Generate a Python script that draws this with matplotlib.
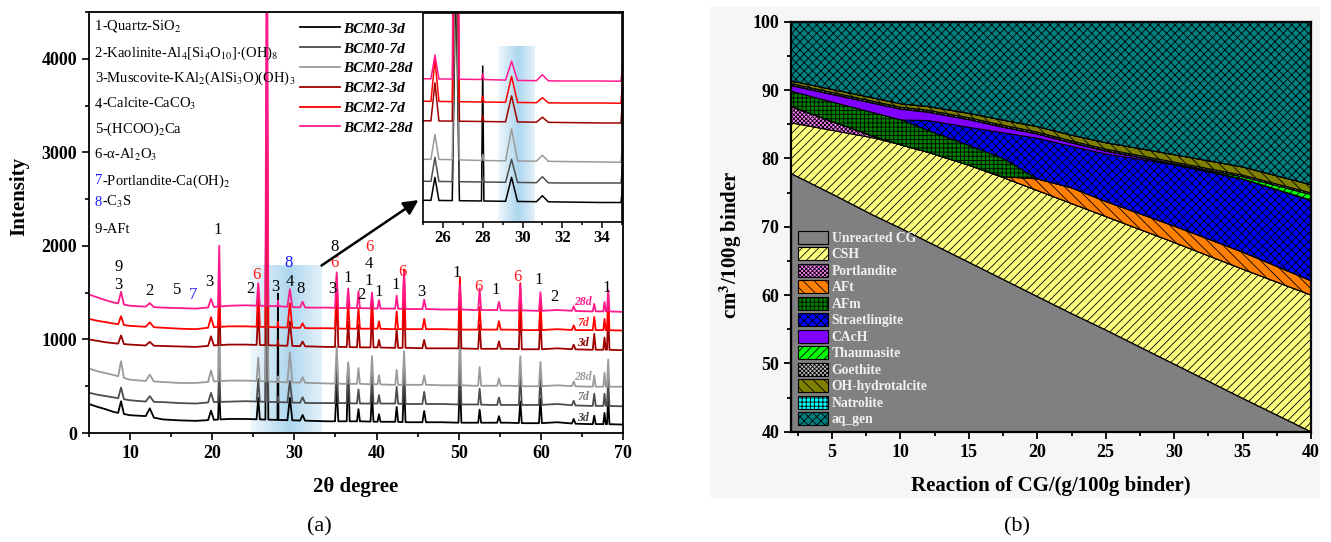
import numpy as np
import matplotlib
matplotlib.use('Agg')
import matplotlib.pyplot as plt
from matplotlib.patches import Rectangle
from matplotlib.ticker import MultipleLocator

plt.rcParams['font.family'] = ['Liberation Serif', 'DejaVu Serif']
plt.rcParams['mathtext.fontset'] = 'stix'
plt.rcParams['hatch.linewidth'] = 0.6
plt.rcParams['hatch.color'] = 'black'

# ---------------- (a) XRD patterns ----------------
base_x = [5, 6, 7, 8, 10, 12, 14, 16, 18, 20, 22, 24, 26, 28, 30, 32, 34, 36, 38, 40,
          42, 44, 46, 48, 50, 52, 54, 56, 58, 60, 62, 64, 66, 68, 70]
base_bcm0_3d = [310, 280, 255, 225, 190, 180, 145, 135, 130, 140, 150, 150, 145, 140, 135, 130, 125, 125,
                125, 120, 120, 115, 115, 115, 110, 110, 110, 110, 105, 105, 115, 100, 95, 95, 90]
base_bcm0_7d = [430, 410, 395, 380, 350, 335, 330, 320, 315, 330, 335, 340, 335, 330, 325, 320, 320, 320,
                315, 315, 315, 310, 310, 310, 305, 305, 300, 300, 300, 300, 310, 295, 290, 290, 285]
base_bcm0_28d = [690, 660, 640, 620, 570, 555, 545, 535, 535, 550, 560, 560, 555, 545, 540, 535, 530, 525,
                 525, 520, 515, 515, 515, 510, 510, 505, 505, 505, 500, 500, 510, 500, 495, 495, 495]
base_bcm2_3d = [1000, 985, 970, 960, 945, 935, 930, 925, 920, 935, 945, 945, 940, 935, 930, 925, 920, 920,
                915, 915, 910, 910, 905, 905, 905, 900, 900, 900, 895, 895, 905, 895, 890, 890, 885]
base_bcm2_7d = [1220, 1200, 1185, 1170, 1145, 1135, 1125, 1115, 1110, 1130, 1140, 1140, 1135, 1130, 1125,
                1120, 1120, 1115, 1115, 1115, 1110, 1110, 1110, 1110, 1105, 1105, 1105, 1105, 1100, 1100,
                1110, 1100, 1100, 1100, 1095]
base_bcm2_28d = [1480, 1450, 1420, 1395, 1360, 1350, 1340, 1335, 1330, 1345, 1360, 1365, 1360, 1355, 1345,
                 1340, 1340, 1335, 1335, 1330, 1330, 1325, 1325, 1320, 1320, 1315, 1315, 1310, 1310, 1305,
                 1315, 1305, 1300, 1300, 1295]

peak_pos = [8.9, 12.4, 19.85, 20.85, 25.6, 26.65, 28.0, 29.45, 31.0, 35.15, 36.55, 37.8, 39.45, 40.3,
            42.45, 43.35, 45.8, 50.15, 52.55, 54.9, 57.5, 59.95, 64.0, 66.5, 67.75, 68.2]
peak_hw = [0.35, 0.5, 0.35, 0.15, 0.2, 0.18, 0.06, 0.3, 0.3, 0.2, 0.18, 0.18, 0.18, 0.18,
           0.18, 0.18, 0.22, 0.18, 0.18, 0.22, 0.18, 0.18, 0.22, 0.18, 0.15, 0.15]
peaks_bcm0_3d = [130, 90, 100, 330, 230, 2300, 1350, 240, 60, 380, 560, 130, 300, 80,
                 160, 450, 120, 470, 140, 70, 230, 260, 50, 90, 120, 280]
peaks_bcm0_7d = [120, 60, 100, 350, 240, 2400, 60, 230, 60, 420, 420, 150, 320, 90,
                 180, 420, 130, 460, 170, 80, 320, 300, 50, 130, 130, 300]
peaks_bcm0_28d = [170, 70, 120, 720, 250, 2600, 60, 320, 60, 390, 230, 170, 300, 100,
                  160, 360, 100, 560, 200, 80, 320, 260, 50, 120, 150, 290]
peaks_bcm2_3d = [90, 40, 100, 560, 380, 3000, 60, 260, 50, 650, 270, 240, 400, 80,
                 200, 700, 90, 600, 260, 80, 480, 330, 50, 170, 130, 420]
peaks_bcm2_7d = [90, 50, 110, 400, 420, 2900, 60, 260, 50, 560, 290, 220, 350, 80,
                 190, 640, 110, 560, 240, 90, 500, 290, 50, 140, 120, 390]
peaks_bcm2_28d = [130, 40, 90, 650, 240, 5000, 60, 190, 60, 380, 210, 180, 170, 90,
                  140, 390, 100, 260, 230, 90, 270, 200, 50, 80, 100, 230]

sample_names = ['BCM0-3d', 'BCM0-7d', 'BCM0-28d', 'BCM2-3d', 'BCM2-7d', 'BCM2-28d']
sample_colors = ['#000000', '#4d4d4d', '#9a9a9a', '#9e0000', '#ff0000', '#ff1a8c']
bases = [base_bcm0_3d, base_bcm0_7d, base_bcm0_28d, base_bcm2_3d, base_bcm2_7d, base_bcm2_28d]
peaks = [peaks_bcm0_3d, peaks_bcm0_7d, peaks_bcm0_28d, peaks_bcm2_3d, peaks_bcm2_7d, peaks_bcm2_28d]

age_text = ['3d', '7d', '28d', '3d', '7d', '28d']
age_x = [65.1, 65.2, 65.1, 65.1, 65.2, 65.1]
age_y = [160, 385, 600, 963, 1175, 1400]
age_colors = ['#444444', '#777777', '#9a9a9a', '#8b0000', '#ff2020', '#ff1a8c']

phase_list = ['1-Quartz-SiO$_2$',
              '2-Kaolinite-Al$_4$[Si$_4$O$_{10}$]$\\cdot$(OH)$_8$',
              '3-Muscovite-KAl$_2$(AlSi$_3$O)(OH)$_3$',
              '4-Calcite-CaCO$_3$',
              '5-(HCOO)$_2$Ca',
              '6-\u03b1-Al$_2$O$_3$',
              '7-Portlandite-Ca(OH)$_2$',
              '8-C$_3$S',
              '9-AFt']
phase_num_colors = ['k', 'k', 'k', 'k', 'k', 'k', '#1a1aff', '#1a1aff', 'k']

peak_label_text = ['9', '3', '2', '5', '7', '3', '1', '2', '6', '3', '8', '4', '8', '8', '6', '3', '1', '2',
                   '6', '4', '1', '1', '1', '6', '3', '1', '6', '1', '6', '1', '2', '1']
peak_label_x = [8.6, 8.6, 12.3, 15.7, 17.7, 19.6, 20.7, 24.7, 25.4, 27.7, 29.3, 29.4, 30.7, 34.9, 34.9,
                34.6, 36.5, 38.2, 39.1, 39.1, 39.1, 40.2, 42.3, 43.2, 45.5, 49.8, 52.4, 54.5, 57.2,
                59.7, 61.6, 68.0]
peak_label_y = [1775, 1583, 1519, 1530, 1476, 1615, 2170, 1540, 1690, 1560, 1815, 1615, 1540, 1990, 1815,
                1540, 1660, 1476, 1985, 1805, 1625, 1508, 1583, 1722, 1508, 1711, 1561, 1530, 1668,
                1636, 1455, 1550]
peak_label_color = ['k', 'k', 'k', 'k', 'b', 'k', 'k', 'k', 'r', 'k', 'b', 'k', 'k', 'k', 'r', 'k', 'k',
                    'k', 'r', 'k', 'k', 'k', 'k', 'r', 'k', 'k', 'r', 'k', 'r', 'k', 'k', 'k']
label_colors = {'k': 'black', 'r': '#ff1a1a', 'b': '#1a1aff'}

# ---------------- (b) phase assemblage ----------------
reaction = [2, 5, 8, 10, 12, 15, 17.5, 20, 22.5, 25, 30, 35, 40]
unreacted_cg = [77.8, 74.8, 71.7, 69.8, 67.8, 64.8, 62.3, 59.8, 57.3, 54.9, 49.9, 44.9, 40.0]
csh = [7.4, 9.3, 11.3, 12.2, 13.1, 14.2, 14.9, 15.5, 16.1, 16.6, 17.8, 18.9, 20.0]
portlandite = [2.4, 1.3, 0.25, 0, 0, 0, 0, 0, 0, 0, 0, 0, 0]
aft = [0, 0, 0, 0, 0, 0, 0.1, 1.7, 2.3, 2.2, 2.4, 2.5, 2.1]
afm = [2.3, 2.9, 3.5, 3.7, 3.2, 2.9, 2.7, 0, 0, 0, 0, 0, 0]
straetlingite = [0, 0, 0, 0, 1.5, 2.7, 3.8, 6.0, 6.1, 7.0, 9.0, 10.7, 11.8]
cach = [0.8, 1.1, 1.35, 1.55, 1.2, 1.1, 0.8, 0.6, 0.5, 0.4, 0.1, 0, 0]
thaumasite = [0, 0, 0, 0, 0, 0, 0, 0, 0, 0, 0, 0.3, 0.8]
goethite = [0.25, 0.25, 0.25, 0.25, 0.25, 0.25, 0.25, 0.25, 0.25, 0.25, 0.25, 0.25, 0.25]
oh_hydrotalcite = [0.4, 0.45, 0.5, 0.5, 0.55, 0.65, 0.75, 0.8, 0.85, 0.95, 1.1, 1.2, 1.2]
natrolite = [0, 0, 0, 0, 0, 0, 0, 0, 0, 0, 0, 0, 0]
aq_gen = [8.65, 9.9, 11.15, 12.0, 12.4, 13.4, 14.4, 15.35, 16.6, 17.7, 19.45, 21.25, 23.85]

phase_names = ['Unreacted CG', 'CSH', 'Portlandite', 'AFt', 'AFm', 'Straetlingite', 'CAcH',
               'Thaumasite', 'Goethite', 'OH-hydrotalcite', 'Natrolite', 'aq_gen']
phase_colors = ['#808080', '#ffff80', '#ff80ff', '#ff8000', '#008000', '#0000ff', '#8000ff',
                '#00ff00', '#c0c0c0', '#808000', '#00ffff', '#008080']
phase_hatches = [None, '////', 'xxxxxxxx', '\\\\\\', '++++', 'xxxx', None, '////', 'xxxxxxxx',
                 '\\\\\\', '++++', 'xxxx']


def build_pattern(base, heights):
    xs, ys = [], []
    for x0, y0 in zip(base_x, base):
        if any(abs(x0 - p) <= w for p, w in zip(peak_pos, peak_hw)):
            continue
        xs.append(x0)
        ys.append(y0)
    for p, w, h in zip(peak_pos, peak_hw, heights):
        for xx, extra in ((p - w, 0), (p, h), (p + w, 0)):
            xs.append(xx)
            ys.append(np.interp(xx, base_x, base) + extra)
    order = np.argsort(xs)
    return np.array(xs)[order], np.array(ys)[order]


W, H = 1331, 542
fig = plt.figure(figsize=(W / 100, H / 100), dpi=100)


def fx(px):
    return px / W


def fy(py):
    return 1 - py / H


def bold_ticks(ax, size):
    ax.tick_params(labelsize=size)
    for lbl in ax.get_xticklabels() + ax.get_yticklabels():
        lbl.set_fontweight('bold')


def gradient(alpha_peak):
    t = np.linspace(0, 1, 200)
    img = np.zeros((1, 200, 4))
    img[..., 0] = 0.60
    img[..., 1] = 0.80
    img[..., 2] = 0.92
    img[0, :, 3] = 0.15 + alpha_peak * np.clip(1 - np.abs(t - 0.55) / 0.55, 0, 1)
    return img


# ---- panel (a)
axa = fig.add_axes([fx(89), fy(433), fx(623 - 89), (433 - 12) / H])
axa.imshow(gradient(0.65), extent=(24.6, 33.3, 0, 1790), aspect='auto', zorder=0.5)
lines = []
for name, col, base, hts in zip(sample_names, sample_colors, bases, peaks):
    x, y = build_pattern(base, hts)
    ln, = axa.plot(x, y, color=col, lw=1.3, label=name, zorder=2)
    lines.append(ln)
axa.set_xlim(5, 70)
axa.set_ylim(0, 4500)
axa.xaxis.set_major_locator(MultipleLocator(10))
axa.xaxis.set_minor_locator(MultipleLocator(5))
axa.yaxis.set_major_locator(MultipleLocator(1000))
axa.yaxis.set_minor_locator(MultipleLocator(500))
axa.tick_params(which='both', direction='out', top=False, right=False, width=1.2)
axa.tick_params(which='major', length=5)
axa.tick_params(which='minor', length=3)
bold_ticks(axa, 13)
for s in axa.spines.values():
    s.set_linewidth(1.3)

for t, x, y, c in zip(peak_label_text, peak_label_x, peak_label_y, peak_label_color):
    axa.text(x, y, t, color=label_colors[c], fontsize=12, ha='center', va='center', zorder=4)
for t, x, y, c in zip(age_text, age_x, age_y, age_colors):
    axa.text(x, y, t, color=c, fontsize=8.5, fontweight='bold', fontstyle='italic',
             ha='center', va='center', zorder=4)

axa.legend(handles=lines, loc='upper left', bbox_to_anchor=(0.395, 0.976), frameon=False,
           borderpad=0, borderaxespad=0, handlelength=2.6, handletextpad=0.2, labelspacing=0.4,
           prop={'size': 11, 'weight': 'bold', 'style': 'italic'})

fig.canvas.draw()
renderer = fig.canvas.get_renderer()
ax_w = axa.get_window_extent().width
row_py = [25, 52.3, 77.7, 103.3, 128.3, 154, 180, 201.7, 228.3]
for txt, col, py in zip(phase_list, phase_num_colors, row_py):
    ya = 1 - (py + 4.5 - 12) / 421
    num, rest = txt[0], txt[1:]
    tn = axa.text(0.011, ya, num, color=col, fontsize=10.5, ha='left', va='baseline',
                  transform=axa.transAxes)
    wn = tn.get_window_extent(renderer).width
    axa.text(0.011 + wn / ax_w, ya, rest, color='black', fontsize=10.5, ha='left', va='baseline',
             transform=axa.transAxes)

axa.annotate('', xy=(45.1, 2490), xytext=(33.3, 1790),
             arrowprops=dict(arrowstyle='-|>', lw=1.8, color='black', mutation_scale=22,
                             shrinkA=0, shrinkB=0), annotation_clip=False, zorder=5)

# inset
axi = fig.add_axes([fx(423), fy(222), fx(199), 209 / H])
axi.set_facecolor('white')
axi.imshow(gradient(0.65), extent=(28.75, 30.6, -70, 1690), aspect='auto', zorder=0.5)
for col, base, hts in zip(sample_colors, bases, peaks):
    x, y = build_pattern(base, hts)
    axi.plot(x, y, color=col, lw=1.1, zorder=2)
axi.set_xlim(25, 35)
axi.set_ylim(-70, 2020)
axi.set_yticks([])
axi.set_xticks([26, 28, 30, 32, 34])
axi.xaxis.set_minor_locator(MultipleLocator(1))
axi.tick_params(which='both', direction='out', width=1.1)
axi.tick_params(which='major', length=4, pad=2)
axi.tick_params(which='minor', length=2)
bold_ticks(axi, 12)
for s in axi.spines.values():
    s.set_linewidth(1.2)

fig.text(fx(356), fy(487), '2\u03b8 degree', fontsize=15, fontweight='bold', ha='center', va='center')
fig.text(fx(19), fy(196), 'Intensity', fontsize=15, fontweight='bold', rotation=90,
         ha='center', va='center')
fig.text(fx(319), fy(527), '(a)', fontsize=16, ha='center', va='center')

# ---- panel (b)
fig.add_artist(Rectangle((fx(710), fy(498)), fx(1320 - 710), (498 - 7) / H,
                         transform=fig.transFigure, facecolor='#f6f6f6', edgecolor='none', zorder=-1))
axb = fig.add_axes([fx(791), fy(431.7), fx(520), 410 / H])
layers = [unreacted_cg, csh, portlandite, aft, afm, straetlingite, cach, thaumasite, goethite,
          oh_hydrotalcite, natrolite, aq_gen]
polys = axb.stackplot(reaction, *layers, labels=phase_names, colors=phase_colors,
                      edgecolor='black', linewidth=0.8)
for poly, h in zip(polys, phase_hatches):
    if h:
        poly.set_hatch(h)
axb.set_xlim(2, 40)
axb.set_ylim(40, 100)
axb.xaxis.set_major_locator(MultipleLocator(5))
axb.xaxis.set_minor_locator(MultipleLocator(2.5))
axb.yaxis.set_major_locator(MultipleLocator(10))
axb.yaxis.set_minor_locator(MultipleLocator(5))
axb.tick_params(which='both', direction='out', top=False, right=False, width=1.3)
axb.tick_params(which='major', length=5)
axb.tick_params(which='minor', length=3)
bold_ticks(axb, 13)
for s in axb.spines.values():
    s.set_linewidth(1.6)
leg = axb.legend(loc='upper left', bbox_to_anchor=(0.013, 0.49), frameon=False, borderpad=0,
                 borderaxespad=0, handlelength=2.2, handleheight=1.1, handletextpad=0.3,
                 labelspacing=0.17, prop={'size': 9.8, 'weight': 'bold'})
for t in leg.get_texts():
    t.set_color('#f0f0f0')

fig.text(fx(1051), fy(486), 'Reaction of CG/(g/100g binder)', fontsize=15, fontweight='bold',
         ha='center', va='center')
fig.text(fx(731), fy(245), 'cm$^{\\mathbf{3}}$/100g binder', fontsize=15, fontweight='bold',
         rotation=90, ha='center', va='center')
fig.text(fx(1017), fy(527), '(b)', fontsize=16, ha='center', va='center')

fig.savefig('out.png', dpi=100, facecolor='white')
